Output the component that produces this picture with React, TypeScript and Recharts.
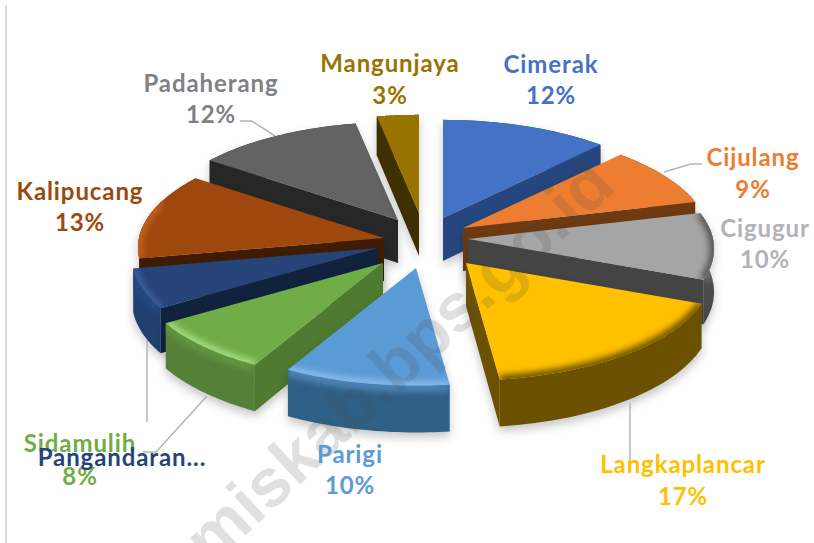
import React from "react";
import { PieChart, Pie } from "recharts";

const categories = ["Cimerak","Cijulang","Cigugur","Langkaplancar","Parigi","Sidamulih","Pangandaran","Kalipucang","Padaherang","Mangunjaya"];
const shares = [12,9,10,17,10,8,6,13,12,3];
const data = categories.map((name, i) => ({ name, value: shares[i] }));

// styling
const topColors = ["#4472C4","#ED7D31","#A5A5A5","#FFC000","#5B9BD5","#70AD47","#264478","#9E480E","#636363","#997300"];
const wallColors = ["#26467F","#6E3A12","#4A4A4A","#6B5100","#2F5F85","#567F38","#1F3F70","#8A3F0C","#3A3A3A","#3F3000"];
const cutColors = ["#26467F","#6E3A12","#444444","#6B5100","#2F5F85","#4E7A31","#11223F","#401D02","#272727","#3F3000"];
const bandColors = ["#26467F","#6E3A12","#6A6A6A","#6B5100","#4A82B4","#5F9640","#244A80","#B5530F","#3A3A3A","#3F3000"];
const bevelColors = ["none","none","#555555","#6B5100","#86BBEA","#A6DC7E","#3A5F9C","#C2641E","none","none"];
const labelColors = ["#4472C4","#ED7D31","#B2B2B8","#FFC000","#5B9BD5","#70AD47","#264478","#9E480E","#808085","#997300"];
const drawOrder = [8,9,0,1,7,2,6,3,5,4];
// how far each slice is pulled out of the pie, in px
const explodeX = [18,38,43,41,-9,-42,-47,-41,-27,-6];
const explodeY = [-22,-12,-1,23,28,23,8,-2,-20,-27];

const labelLayout: Record<string,{x:number;y:number;py?:number;text?:string;noPct?:boolean}> = {
  Cimerak:{x:551,y:73,py:104},
  Cijulang:{x:753,y:166,py:198},
  Cigugur:{x:765,y:237,py:268},
  Langkaplancar:{x:683,y:473,py:505},
  Parigi:{x:350,y:463,py:494},
  Sidamulih:{x:80,y:452,py:485},
  Pangandaran:{x:122,y:466,text:"Pangandaran...",noPct:true},
  Kalipucang:{x:80,y:200,py:231},
  Padaherang:{x:211,y:92,py:123},
  Mangunjaya:{x:390,y:72,py:104},
};
const leaders: Record<string,string> = {
  Padaherang:"240,121 252,121 275,136",
  Cijulang:"702,164 691,164 664,172",
  Langkaplancar:"630,403 630,460",
  Pangandaran:"147,340 147,422",
  Sidamulih:"207,396 156,452 143,452",
};

const CX = 425, CY = 240, RADIUS = 245;
const Y_SCALE = 107 / 245, PERSP = 0.09, DEPTH = 43;
const FONT = "Lato, 'Open Sans', sans-serif";

type P = [number, number];
const rad = (d:number) => (d * Math.PI) / 180;
function project(cx:number, cy:number, R:number, theta:number, k=1): P {
  const wx = Math.sin(rad(theta)) * k, wy = Math.cos(rad(theta)) * k;
  const s = 1 / (1 + PERSP * wy);
  return [cx + R * wx * s, cy - R * Y_SCALE * wy * s];
}
const pts = (a:P[]) => a.map((p) => `${p[0].toFixed(1)},${p[1].toFixed(1)}`).join(" ");

function Slice3D(props:any) {
  const { cx, cy, outerRadius: R, startAngle, endAngle, index } = props;
  const t0 = 90 - startAngle, t1 = 90 - endAngle, mid = (t0 + t1) / 2;
  const ox = explodeX[index], oy = explodeY[index];
  const shift = (p:P):P => [p[0] + ox, p[1] + oy];
  const apex:P = [cx + ox, cy + oy];
  const n = 32;
  const arc:P[] = [];
  const lower:P[] = [];
  const thetas:number[] = [];
  const depthAt = (th:number) => DEPTH * (1 - PERSP * Math.cos(rad(th)));
  for (let i = 0; i <= n; i++) {
    const th = t0 + ((t1 - t0) * i) / n;
    thetas.push(th);
    const p = shift(project(cx, cy, R, th));
    arc.push(p);
    lower.push([p[0], p[1] + depthAt(th)]);
  }
  const inner = shift(project(cx, cy, R, mid, 0.6));
  const cutFace = (edge:P, bottom:P) => {
    const dx = edge[0] - apex[0];
    const u = Math.abs(dx) < 1e-6 ? 0 : (inner[0] - apex[0]) / dx;
    const lineY = apex[1] + (edge[1] - apex[1]) * u;
    if (inner[1] >= lineY) return null;
    return pts([apex, edge, bottom, [apex[0], apex[1] + DEPTH]]);
  };
  const startCut = cutFace(arc[0], lower[0]);
  const endCut = cutFace(arc[n], lower[n]);
  const frontArc = arc.filter((_, i) => Math.cos(rad(thetas[i])) < 0.35);
  const clip = `top-clip-${index}`;
  const wallClip = `wall-clip-${index}`;
  const topPts = pts([apex, ...arc]);
  const wallPts = pts([...arc, ...[...lower].reverse()]);
  return (
    <g style={{ filter: "drop-shadow(0 5px 5px rgba(0,0,0,0.22))" }}>
      <clipPath id={clip}><polygon points={topPts} /></clipPath>
      <clipPath id={wallClip}><polygon points={wallPts} /></clipPath>
      <polygon points={wallPts} fill={wallColors[index]} />
      {frontArc.length > 1 && (
        <g clipPath={`url(#${wallClip})`}>
          <polyline points={pts(frontArc)} fill="none" stroke={bandColors[index]} strokeWidth={14} style={{ filter: "blur(3px)" }} />
        </g>
      )}
      {startCut && <polygon points={startCut} fill={cutColors[index]} />}
      {endCut && <polygon points={endCut} fill={cutColors[index]} />}
      <polygon points={topPts} fill={topColors[index]} />
      {frontArc.length > 1 && bevelColors[index] !== "none" && (
        <g clipPath={`url(#${clip})`}>
          <polyline points={pts(frontArc)} fill="none" stroke={bevelColors[index]} strokeWidth={9} style={{ filter: "blur(3px)" }} />
        </g>
      )}
    </g>
  );
}

function LabelMark(props:any) {
  const { index, percent, name } = props;
  const label = categories[index] ?? name;
  const l = labelLayout[label];
  const common = { textAnchor: "middle" as const, fontFamily: FONT, fontWeight: 700, fontSize: 24, letterSpacing: 0.9, fill: labelColors[index] };
  return (
    <g>
      {index === 0 && (
        <g>
          <rect x={5} y={5} width={2} height={538} fill="#DADADA" />
          <text transform="translate(142,632) rotate(-43)" fontFamily="'Liberation Sans', sans-serif" fontWeight={700} fontSize={68} fill="rgba(70,70,70,0.17)">ciamiskab.bps.go.id</text>
        </g>
      )}
      {leaders[label] && <polyline points={leaders[label]} fill="none" stroke="#B4B4B4" strokeWidth={1.5} />}
      <text x={l.x} y={l.y} {...common}>{l.text ?? label}</text>
      {!l.noPct && <text x={l.x} y={l.py} {...common}>{Math.round(percent * 100)}%</text>}
    </g>
  );
}

export default function App() {
  return (
    <div style={{ position: "absolute", left: 0, top: 0, width: 814, height: 543, background: "#fff" }}>
      <PieChart width={814} height={543} margin={{ top: 0, right: 0, bottom: 0, left: 0 }}>
        {drawOrder.map((idx) => (
          <Pie
            key={idx}
            data={data}
            dataKey="value"
            nameKey="name"
            cx={CX}
            cy={CY}
            outerRadius={RADIUS}
            startAngle={90}
            endAngle={-270}
            stroke="none"
            isAnimationActive={false}
            label={false}
            labelLine={false}
            shape={(p:any) => (p.index === idx ? <Slice3D {...p} /> : <g />)}
          />
        ))}
        <Pie
          data={data}
          dataKey="value"
          nameKey="name"
          cx={CX}
          cy={CY}
          outerRadius={RADIUS}
          startAngle={90}
          endAngle={-270}
          stroke="none"
          isAnimationActive={false}
          label={false}
          labelLine={false}
          shape={(p:any) => <LabelMark {...p} />}
        />
      </PieChart>
    </div>
  );
}
